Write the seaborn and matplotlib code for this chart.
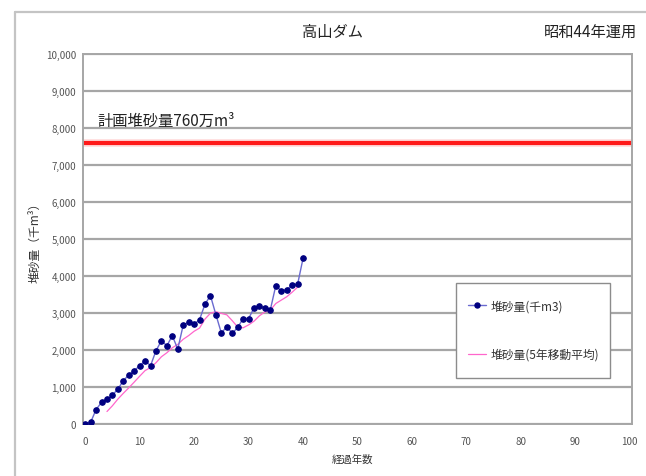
import matplotlib
matplotlib.use("Agg")
import matplotlib.pyplot as plt
import seaborn as sns
import pandas as pd
from matplotlib.ticker import FuncFormatter, MultipleLocator
from matplotlib.lines import Line2D
from matplotlib.patches import Rectangle

# ---- data ----
years = list(range(0, 41))
sediment = [0, 45, 390, 585, 665, 780, 945, 1170, 1325, 1440,
            1575, 1710, 1575, 1980, 2250, 2115, 2385, 2025, 2675, 2750,
            2695, 2820, 3240, 3470, 2955, 2460, 2630, 2450, 2610, 2850,
            2850, 3135, 3180, 3135, 3090, 3740, 3595, 3630, 3755, 3775,
            4475]
ma_years = list(range(4, 40))
ma_values = [337, 493, 673, 829, 977, 1132, 1291, 1444, 1525, 1656,
             1818, 1926, 2061, 2151, 2290, 2390, 2506, 2593, 2836, 2995,
             3036, 2989, 2951, 2793, 2621, 2600, 2678, 2779, 2925, 3030,
             3078, 3256, 3348, 3438, 3562, 3699]
planned = 7600
title = "高山ダム"
subtitle = "昭和44年運用"
plan_label = "計画堆砂量760万m³"
xlabel = "経過年数"
ylabel = "堆砂量（千m³）"
legend_labels = ["堆砂量(千m3)", "堆砂量(5年移動平均)"]
xticks = list(range(0, 101, 10))

sns.set_theme(style="white")
plt.rcParams['font.family'] = ['Noto Sans CJK JP', 'DejaVu Sans']

W, H = 646, 477
fig = plt.figure(figsize=(W / 100, H / 100), dpi=100)
fig.patch.set_facecolor("white")

def fx(px):
    return px / W

def fy(py):
    return 1 - py / H

ax = fig.add_axes([fx(83), fy(425), fx(632) - fx(83), fy(55) - fy(425)])

grid_c = "#a6a6a6"
ax.yaxis.grid(True, color=grid_c, linewidth=1.6)
ax.set_axisbelow(True)

df = pd.DataFrame({"year": years, "value": sediment})
dfm = pd.DataFrame({"year": ma_years, "value": ma_values})

sns.lineplot(data=dfm, x="year", y="value", ax=ax, color="#ff66cc",
             linewidth=0.9, zorder=3)
sns.lineplot(data=df, x="year", y="value", ax=ax, color="#6a6ad0",
             linewidth=1.0, marker="o", markersize=4.0,
             markerfacecolor="#000080", markeredgecolor="#000080", zorder=4)

ax.axhline(planned, color="#ff1a1a", linewidth=3.0, zorder=2)
ax.axhline(planned, color="#ff9999", linewidth=5.5, alpha=0.35, zorder=1)

ax.set_xlim(-0.4, 100.4)
ax.set_ylim(0, 10000)
ax.set_xticks(xticks)
ax.yaxis.set_major_locator(MultipleLocator(1000))
ax.yaxis.set_major_formatter(FuncFormatter(lambda v, p: f"{int(v):,}"))

for s in ax.spines.values():
    s.set_color(grid_c)
    s.set_linewidth(1.4)

ax.tick_params(axis="both", which="major", labelsize=7, colors="#555555",
               length=3, width=0.8, direction="out", pad=2)
ax.tick_params(axis="x", direction="inout", length=4, pad=7)

ax.set_xlabel("")
ax.set_ylabel("")

fig.text(fx(352), fy(460), xlabel, ha="center", va="center",
         fontsize=7.5, color="#333333")
fig.text(fx(35), fy(240), ylabel, ha="center", va="center",
         fontsize=8.5, rotation=90, color="#333333")
fig.text(fx(332), fy(33), title, ha="center", va="center",
         fontsize=11, color="#222222")
fig.text(fx(637), fy(33), subtitle, ha="right", va="center",
         fontsize=11, color="#222222")
fig.text(fx(97), fy(121), plan_label, ha="left", va="center",
         fontsize=11, color="#222222")

# outer frame
fig.add_artist(Line2D([fx(15), fx(15)], [fy(13), 0], color="#c4c4c4", linewidth=1.6))
fig.add_artist(Line2D([fx(15), 1], [fy(13), fy(13)], color="#c4c4c4", linewidth=1.6))

# legend
fig.add_artist(Rectangle((fx(456), fy(379)), fx(610) - fx(456), fy(284) - fy(379),
                         transform=fig.transFigure, facecolor="white",
                         edgecolor="#8c8c8c", linewidth=1.0, zorder=5))
handles = [
    Line2D([], [], color="#6a6ad0", linewidth=1.0, marker="o", markersize=3.6,
           markerfacecolor="#000080", markeredgecolor="#000080"),
    Line2D([], [], color="#ff66cc", linewidth=0.9),
]
leg = fig.legend(handles, legend_labels, loc="center",
                 bbox_to_anchor=(fx(534), fy(331)), frameon=False,
                 fontsize=8.5, handlelength=1.5, handletextpad=0.4,
                 labelspacing=3.0, labelcolor="#333333")
leg.set_zorder(6)

fig.savefig("out.png", dpi=100, facecolor="white")
